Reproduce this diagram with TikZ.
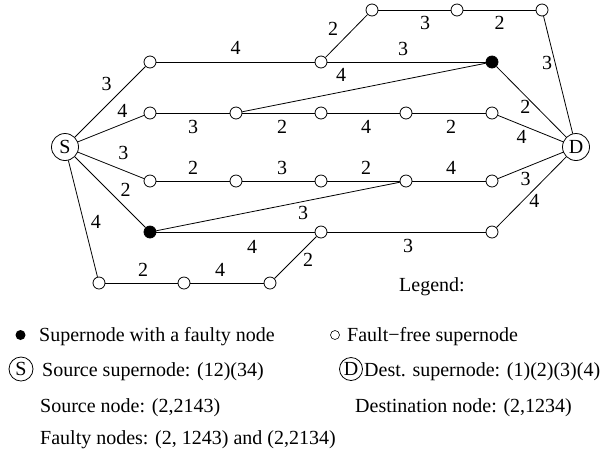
\documentclass[tikz,border=0pt]{standalone}
\usepackage{fontspec}
\setmainfont{Liberation Serif}
\begin{document}
\begin{tikzpicture}[x=1pt,y=-1pt,
  sn/.style={circle,draw,line width=0.8pt,fill=white,minimum size=12pt,inner sep=0pt},
  fn/.style={circle,draw,fill=black,line width=0.8pt,minimum size=12pt,inner sep=0pt},
  big/.style={circle,draw,line width=0.8pt,fill=white,minimum size=27pt,inner sep=0pt,font=\fontsize{20}{24}\selectfont},
  lab/.style={font=\fontsize{20}{24}\selectfont,inner sep=0pt},
  txt/.style={font=\fontsize{20}{24}\selectfont,inner sep=0pt,anchor=base west},
  ed/.style={line width=0.8pt}]
\useasboundingbox (0,0) rectangle (604,459);
% main nodes
\node[big] (S) at (65,147) {S};
\node[big] (D) at (576,147) {D};
\node[sn] (a1) at (372,10) {};
\node[sn] (a2) at (457,10) {};
\node[sn] (a3) at (542,10) {};
\node[sn] (b1) at (150,62) {};
\node[sn] (b2) at (321,62) {};
\node[fn] (bF) at (492,62) {};
\node[sn] (c1) at (150,113) {};
\node[sn] (c2) at (236,113) {};
\node[sn] (c3) at (321,113) {};
\node[sn] (c4) at (406,113) {};
\node[sn] (c5) at (492,113) {};
\node[sn] (d1) at (150,181) {};
\node[sn] (d2) at (236,181) {};
\node[sn] (d3) at (321,181) {};
\node[sn] (d4) at (406,181) {};
\node[sn] (d5) at (492,181) {};
\node[fn] (eF) at (150,232) {};
\node[sn] (e2) at (321,232) {};
\node[sn] (e3) at (492,232) {};
\node[sn] (f1) at (99,283) {};
\node[sn] (f2) at (184,283) {};
\node[sn] (f3) at (270,283) {};
% edges
\draw[ed] (S) -- node[lab,shift={(-3.5,-17.5)}] {3} (b1);
\draw[ed] (S) -- node[lab,shift={(11.5,-18)}] {4} (c1);
\draw[ed] (b1) -- node[lab,shift={(0,-14)}] {4} (b2);
\draw[ed] (b2) -- node[lab,shift={(-13.5,-7)}] {2} (a1);
\draw[ed] (a1) -- node[lab,shift={(10.5,13)}] {3} (a2);
\draw[ed] (a2) -- node[lab,shift={(0,13)}] {2} (a3);
\draw[ed] (a3) -- node[lab,shift={(-11,-11.5)}] {3} (D);
\draw[ed] (b2) -- node[lab,shift={(-3.5,-13)}] {3} (bF);
\draw[ed] (c2) -- node[lab,shift={(-23,-12.5)}] {4} (bF);
\draw[ed] (bF) -- node[lab,shift={(-6,5.5)}] {2} (D);
\draw[ed] (c1) -- node[lab,shift={(0,14)}] {3} (c2);
\draw[ed] (c2) -- node[lab,shift={(3.5,14)}] {2} (c3);
\draw[ed] (c3) -- node[lab,shift={(2.5,14)}] {4} (c4);
\draw[ed] (c4) -- node[lab,shift={(2,14)}] {2} (c5);
\draw[ed] (c5) -- node[lab,shift={(-9,8)}] {4} (D);
\draw[ed] (S) -- node[lab,shift={(12.5,-12)}] {3} (d1);
\draw[ed] (S) -- node[lab,shift={(15.5,-2.5)}] {2} (eF);
\draw[ed] (S) -- node[lab,shift={(13,3)}] {4} (f1);
\draw[ed] (d1) -- node[lab,shift={(0,-13)}] {2} (d2);
\draw[ed] (d2) -- node[lab,shift={(3.5,-13)}] {3} (d3);
\draw[ed] (d3) -- node[lab,shift={(2.5,-13)}] {2} (d4);
\draw[ed] (d4) -- node[lab,shift={(2,-13)}] {4} (d5);
\draw[ed] (d5) -- node[lab,shift={(-5,14)}] {3} (D);
\draw[ed] (eF) -- node[lab,shift={(25,6.5)}] {3} (d4);
\draw[ed] (eF) -- node[lab,shift={(16.5,15)}] {4} (e2);
\draw[ed] (e2) -- node[lab,shift={(1.5,14)}] {3} (e3);
\draw[ed] (e3) -- node[lab,shift={(3,8.5)}] {4} (D);
\draw[ed] (e2) -- node[lab,shift={(12.5,2.5)}] {2} (f3);
\draw[ed] (f1) -- node[lab,shift={(1.5,-13)}] {2} (f2);
\draw[ed] (f2) -- node[lab,shift={(-7,-13)}] {4} (f3);
% legend
\node[lab,anchor=base] (legtitle) at (432,291) {Legend:};
\node[circle,fill=black,minimum size=10pt,inner sep=0pt] (lf) at (20.5,335) {};
\node[txt] (lft) at (39,341) {Supernode with a faulty node};
\node[circle,draw,line width=0.6pt,minimum size=9pt,inner sep=0pt] (lo) at (335,335) {};
\node[txt] (lot) at (347,341) {Fault−free supernode};
\node[circle,draw,line width=0.8pt,minimum size=24pt,inner sep=0pt,font=\fontsize{20}{24}\selectfont] (lS) at (21,369) {S};
\node[txt] (lSt) at (42,376) {Source supernode: (12)(34)};
\node[circle,draw,line width=0.8pt,minimum size=23pt,inner sep=0pt,font=\fontsize{20}{24}\selectfont] (lD) at (351,369) {D};
\node[txt] (lDt) at (364,376) {Dest. supernode: (1)(2)(3)(4)};
\node[txt] (lsn) at (40,412) {Source node: (2,2143)};
\node[txt] (ldn) at (355,412) {Destination node: (2,1234)};
\node[txt] (lfn) at (40,444) {Faulty nodes: (2, 1243) and (2,2134)};
\end{tikzpicture}
\end{document}
